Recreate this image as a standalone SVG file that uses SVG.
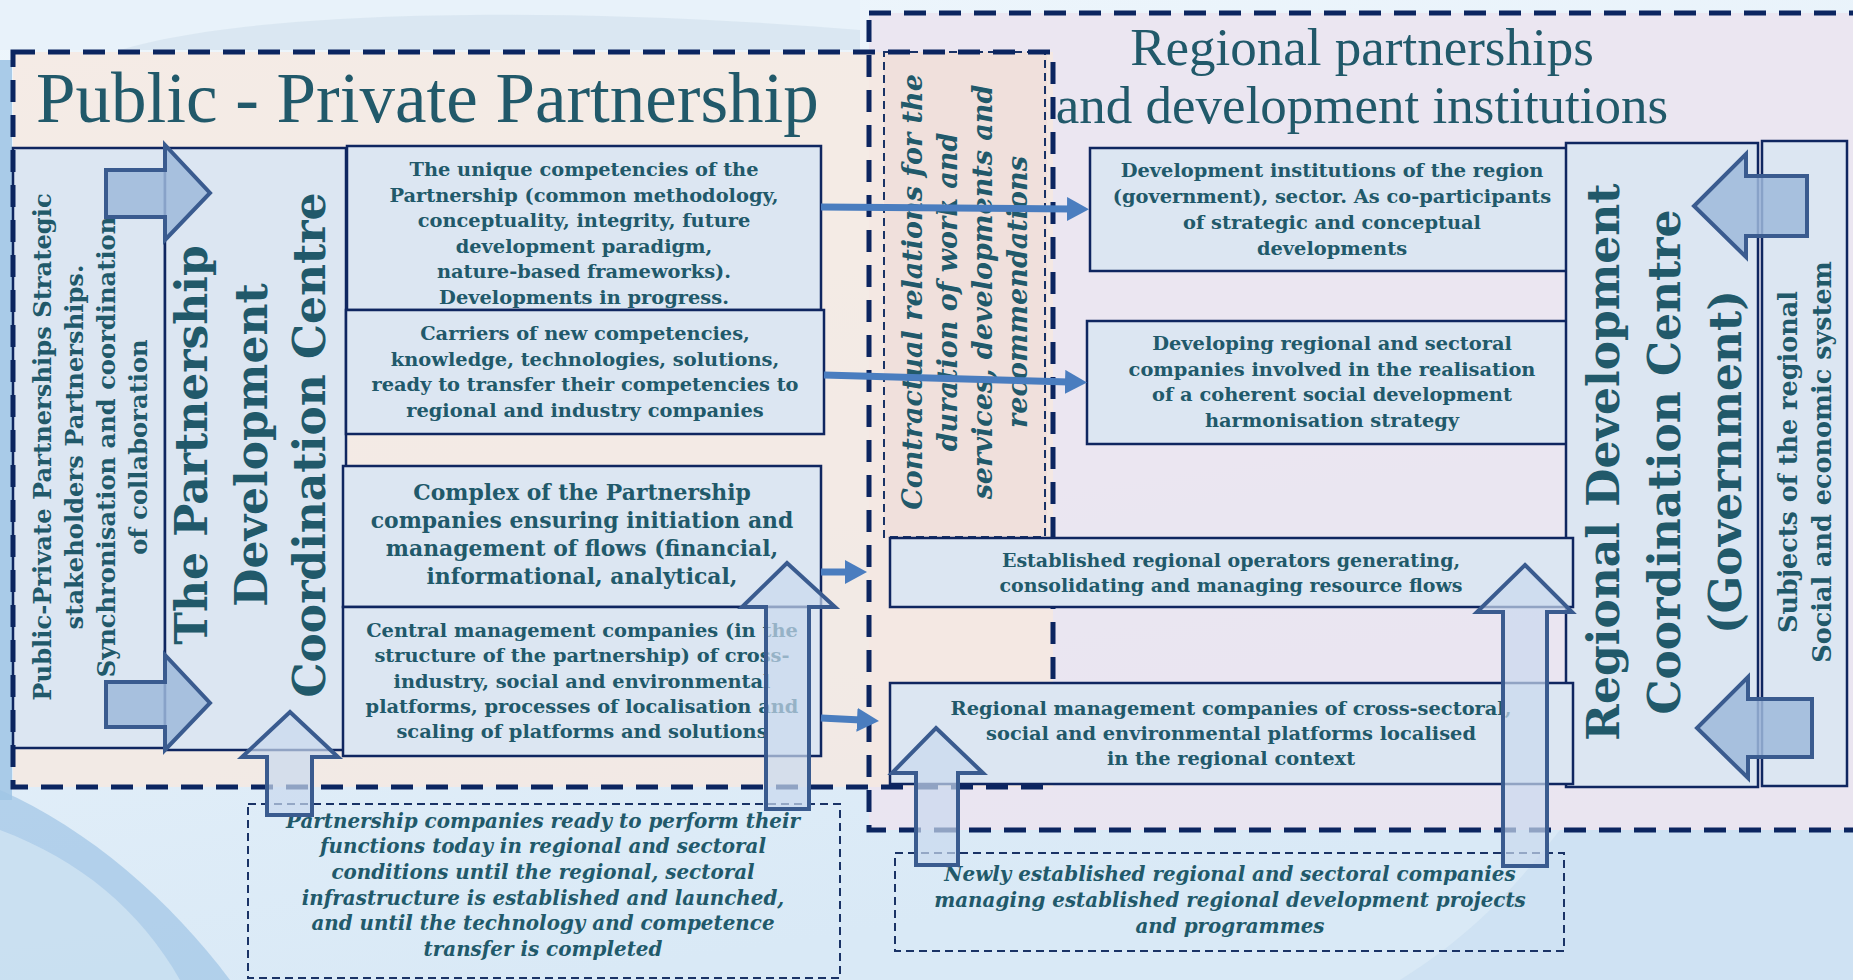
<svg xmlns="http://www.w3.org/2000/svg" width="1853" height="980" viewBox="0 0 1853 980">
<defs>
<linearGradient id="bg" x1="0" y1="0" x2="0.3" y2="1">
<stop offset="0" stop-color="#eef6fc"/>
<stop offset="0.5" stop-color="#e6f1fa"/>
<stop offset="1" stop-color="#d9e9f6"/>
</linearGradient>
<marker id="ah" markerUnits="userSpaceOnUse" markerWidth="24" markerHeight="24" refX="4" refY="12" orient="auto">
<path d="M0,0 L22,12 L0,24 Z" fill="#4a7dbf"/>
</marker>
<style>
.box{fill:#dce6f2;stroke:#0f2660;stroke-width:2.5}
.t{font-family:"DejaVu Serif",serif;font-weight:bold;fill:#21596a;text-anchor:middle}
.ti{font-family:"DejaVu Serif",serif;font-weight:bold;font-style:italic;fill:#21596a;text-anchor:middle}
.title{font-family:"Liberation Serif",serif;fill:#21596a}
.dash{fill:none;stroke:#0b2560;stroke-width:5;stroke-dasharray:22 13}
.thin{fill:none;stroke:#1a3366;stroke-width:2;stroke-dasharray:8 5}
.conn{stroke:#4a7dbf;stroke-width:7;fill:none;marker-end:url(#ah)}
.barrow{fill:#9db8da;fill-opacity:0.85;stroke:#3a5b8f;stroke-width:4;stroke-linejoin:miter}
.uarrow{fill:#c9d8ee;fill-opacity:0.7;stroke:#3a5b8f;stroke-width:4;stroke-linejoin:miter}
</style>
</defs>
<g id="background">
<rect x="0" y="0" width="1853" height="980" fill="url(#bg)"/>
<path d="M0,0 L860,0 L860,50 L0,50 Z" fill="#e8f2fa"/>
<path d="M120,50 C250,10 560,5 860,30 L860,50 Z" fill="#d4e2ee" opacity="0.7"/>
<rect x="0" y="60" width="12" height="740" fill="#a9cbe8"/>
<path d="M0,790 C90,830 170,900 230,980 L0,980 Z" fill="#9fc4e6" opacity="0.7"/>
<path d="M0,830 C80,860 140,910 180,980 L0,980 Z" fill="#cfe3f3" opacity="0.8"/>
<path d="M1560,830 L1853,830 L1853,980 L1400,980 C1480,930 1520,880 1560,830 Z" fill="#c6dbf0" opacity="0.5"/>
</g>
<g id="region-fills">
<rect x="869" y="13" width="990" height="817" fill="#ebe4ef" opacity="0.9"/>
<rect x="13" y="52" width="1040" height="735" fill="#f6e9e0" opacity="0.8"/>
<rect x="884" y="52" width="163" height="486" fill="#f0e0dc"/>
</g>
<g id="titles">
<text class="title" x="36" y="122" font-size="71">Public - Private Partnership</text>
<text class="title" x="1362" y="65" font-size="53" text-anchor="middle">Regional partnerships</text>
<text class="title" x="1362" y="123" font-size="53" text-anchor="middle">and development institutions</text>
</g>
<g id="ppp-stakeholders">
<rect class="box" x="13" y="148" width="152" height="600"/>
<text class="t" font-size="24.2" transform="translate(51,447) rotate(-90)">Public-Private Partnerships Strategic</text>
<text class="t" font-size="24.2" transform="translate(83,447) rotate(-90)">stakeholders Partnerships.</text>
<text class="t" font-size="24.2" transform="translate(115,447) rotate(-90)">Synchronisation and coordination</text>
<text class="t" font-size="24.2" transform="translate(147,447) rotate(-90)">of collaboration</text>
</g>
<g id="partnership-centre">
<rect class="box" x="165" y="148" width="181" height="602"/>
<text class="t" font-size="44" transform="translate(207,445) rotate(-90)">The Partnership</text>
<text class="t" font-size="44" transform="translate(267,445) rotate(-90)">Development</text>
<text class="t" font-size="44" transform="translate(325,445) rotate(-90)">Coordination Centre</text>
</g>
<g id="unique-competencies">
<rect class="box" x="347" y="146" width="474" height="164"/>
<text class="t" font-size="19.4" x="584" y="176">The unique competencies of the</text>
<text class="t" font-size="19.4" x="584" y="201.6">Partnership (common methodology,</text>
<text class="t" font-size="19.4" x="584" y="227.2">conceptuality, integrity, future</text>
<text class="t" font-size="19.4" x="584" y="252.8">development paradigm,</text>
<text class="t" font-size="19.4" x="584" y="278.4">nature-based frameworks).</text>
<text class="t" font-size="19.4" x="584" y="304">Developments in progress.</text>
</g>
<g id="carriers">
<rect class="box" x="346" y="310" width="478" height="124"/>
<text class="t" font-size="19.4" x="585" y="340">Carriers of new competencies,</text>
<text class="t" font-size="19.4" x="585" y="365.5">knowledge, technologies, solutions,</text>
<text class="t" font-size="19.4" x="585" y="391">ready to transfer their competencies to</text>
<text class="t" font-size="19.4" x="585" y="416.5">regional and industry companies</text>
</g>
<g id="complex">
<rect class="box" x="343" y="466" width="478" height="141"/>
<text class="t" font-size="21.9" x="582" y="500">Complex of the Partnership</text>
<text class="t" font-size="21.9" x="582" y="528">companies ensuring initiation and</text>
<text class="t" font-size="21.9" x="582" y="556">management of flows (financial,</text>
<text class="t" font-size="21.9" x="582" y="584">informational, analytical,</text>
</g>
<g id="central-management">
<rect class="box" x="343" y="607" width="478" height="149"/>
<text class="t" font-size="19.4" x="582" y="637">Central management companies (in the</text>
<text class="t" font-size="19.4" x="582" y="662">structure of the partnership) of cross-</text>
<text class="t" font-size="19.4" x="582" y="687.5">industry, social and environmental</text>
<text class="t" font-size="19.4" x="582" y="713">platforms, processes of localisation and</text>
<text class="t" font-size="19.4" x="582" y="738">scaling of platforms and solutions</text>
</g>
<g id="contractual">
<rect class="thin" x="884" y="52" width="161" height="485"/>
<text class="ti" font-size="27" transform="translate(922,292) rotate(-90)">Contractual relations for the</text>
<text class="ti" font-size="27" transform="translate(957,292) rotate(-90)">duration of work and</text>
<text class="ti" font-size="27" transform="translate(992,292) rotate(-90)">services, developments and</text>
<text class="ti" font-size="27" transform="translate(1027,292) rotate(-90)">recommendations</text>
</g>
<g id="frames">
<rect class="dash" x="13" y="52" width="1040" height="735"/>
<rect class="dash" x="869" y="13" width="1000" height="817"/>
</g>
<g id="development-institutions">
<rect class="box" x="1090" y="148" width="485" height="123"/>
<text class="t" font-size="19.4" x="1332" y="177">Development institutions of the region</text>
<text class="t" font-size="19.4" x="1332" y="203">(government), sector. As co-participants</text>
<text class="t" font-size="19.4" x="1332" y="229">of strategic and conceptual</text>
<text class="t" font-size="19.4" x="1332" y="255">developments</text>
</g>
<g id="developing-companies">
<rect class="box" x="1087" y="321" width="491" height="123"/>
<text class="t" font-size="19.4" x="1332" y="350">Developing regional and sectoral</text>
<text class="t" font-size="19.4" x="1332" y="375.5">companies involved in the realisation</text>
<text class="t" font-size="19.4" x="1332" y="401">of a coherent social development</text>
<text class="t" font-size="19.4" x="1332" y="427">harmonisation strategy</text>
</g>
<g id="regional-centre">
<rect class="box" x="1566" y="143" width="192" height="644"/>
<text class="t" font-size="44" transform="translate(1619,462) rotate(-90)">Regional Development</text>
<text class="t" font-size="44" transform="translate(1680,462) rotate(-90)">Coordination Centre</text>
<text class="t" font-size="44" transform="translate(1741,462) rotate(-90)">(Government)</text>
</g>
<g id="subjects">
<rect class="box" x="1762" y="141" width="85" height="645"/>
<text class="t" font-size="25.5" transform="translate(1797,462) rotate(-90)">Subjects of the regional</text>
<text class="t" font-size="25.5" transform="translate(1831,462) rotate(-90)">Social and economic system</text>
</g>
<g id="regional-operators">
<rect class="box" x="890" y="538" width="683" height="69"/>
<text class="t" font-size="19" x="1231" y="567">Established regional operators generating,</text>
<text class="t" font-size="19" x="1231" y="592">consolidating and managing resource flows</text>
</g>
<g id="regional-management">
<rect class="box" x="890" y="683" width="683" height="101"/>
<text class="t" font-size="19.4" x="1231" y="715">Regional management companies of cross-sectoral,</text>
<text class="t" font-size="19.4" x="1231" y="740">social and environmental platforms localised</text>
<text class="t" font-size="19.4" x="1231" y="765">in the regional context</text>
</g>
<g id="partnership-companies-ready">
<rect class="thin" x="248" y="804" width="592" height="174"/>
<text class="ti" font-size="19.9" x="543" y="828">Partnership companies ready to perform their</text>
<text class="ti" font-size="19.9" x="543" y="853">functions today in regional and sectoral</text>
<text class="ti" font-size="19.9" x="543" y="879">conditions until the regional, sectoral</text>
<text class="ti" font-size="19.9" x="543" y="905">infrastructure is established and launched,</text>
<text class="ti" font-size="19.9" x="543" y="930">and until the technology and competence</text>
<text class="ti" font-size="19.9" x="543" y="956">transfer is completed</text>
</g>
<g id="newly-established">
<rect class="thin" x="895" y="853" width="669" height="98"/>
<text class="ti" font-size="19.9" x="1230" y="881">Newly established regional and sectoral companies</text>
<text class="ti" font-size="19.9" x="1230" y="907">managing established regional development projects</text>
<text class="ti" font-size="19.9" x="1230" y="933">and programmes</text>
</g>
<g id="connectors">
<line class="conn" x1="821" y1="207" x2="1071" y2="209"/>
<line class="conn" x1="824" y1="375" x2="1069" y2="382"/>
<line class="conn" x1="821" y1="572" x2="849" y2="572"/>
<line class="conn" x1="821" y1="718" x2="861" y2="720"/>
<polygon class="barrow" points="106,170 165,170 165,145 210,193 165,240 165,217 106,217"/>
<polygon class="barrow" points="106,682 165,682 165,655 210,703 165,750 165,727 106,727"/>
<polygon class="barrow" points="1807,176 1746,176 1746,154 1694,206 1746,257 1746,236 1807,236"/>
<polygon class="barrow" points="1812,699 1748,699 1748,677 1697,728 1748,778 1748,757 1812,757"/>
<polygon class="uarrow" points="290,712 338,757 312,757 312,815 267,815 267,757 242,757"/>
<polygon class="uarrow" points="787,563 835,607 809,607 809,809 766,809 766,607 742,607"/>
<polygon class="uarrow" points="936,728 983,773 958,773 958,865 916,865 916,773 892,773"/>
<polygon class="uarrow" points="1525,565 1572,612 1547,612 1547,866 1503,866 1503,612 1477,612"/>
</g>
</svg>
